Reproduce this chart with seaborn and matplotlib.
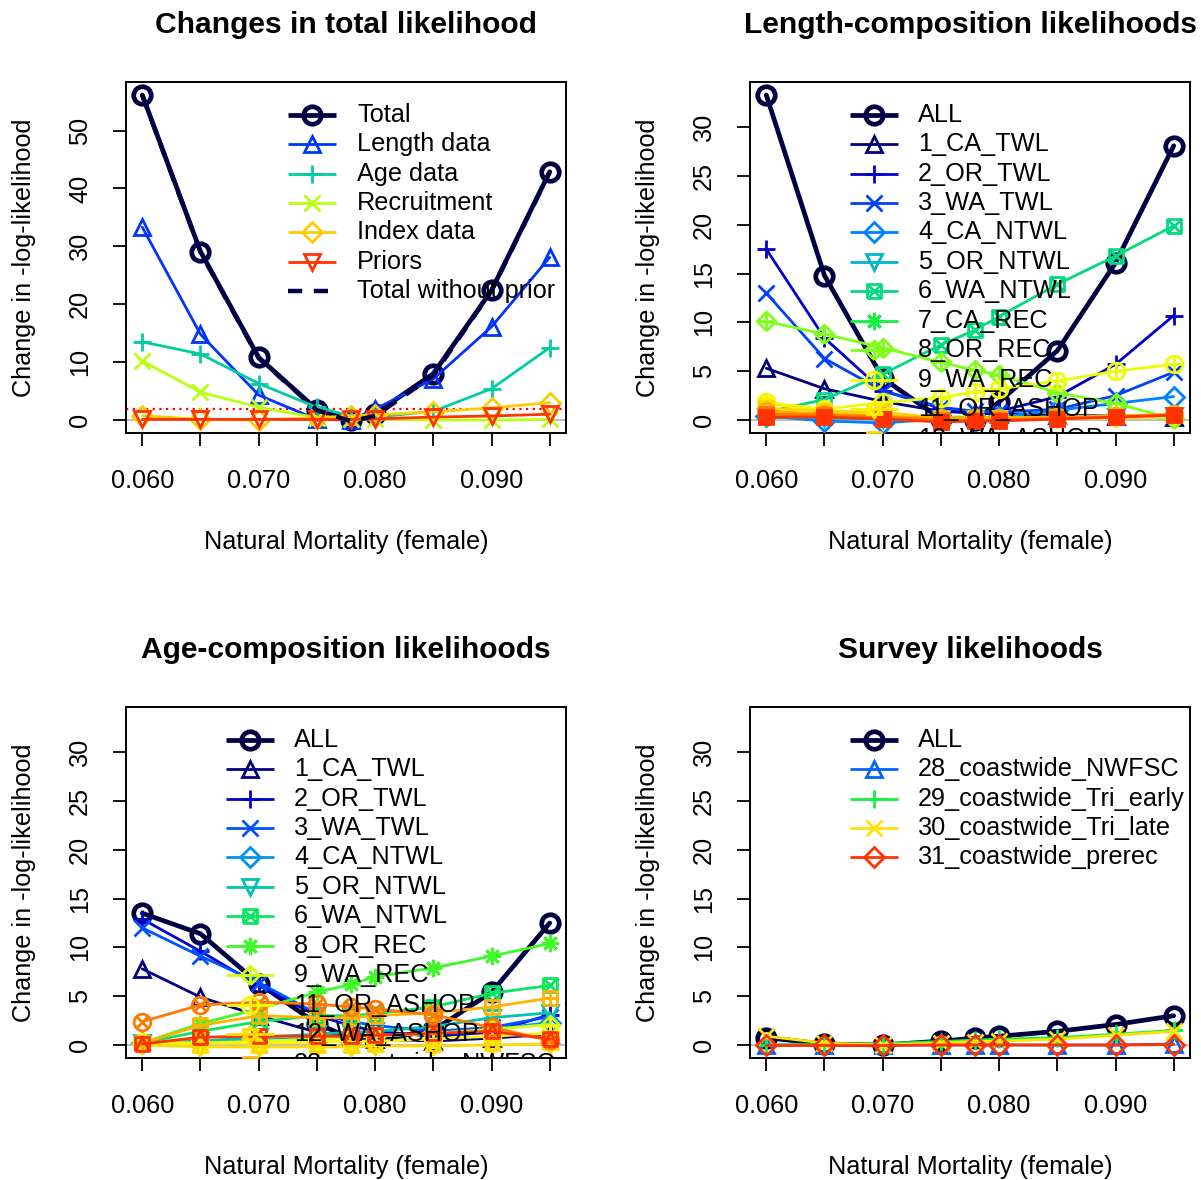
import numpy as np
import matplotlib
matplotlib.use("Agg")
import matplotlib.pyplot as plt
from matplotlib.path import Path
import seaborn as sns

# ---------------------------------------------------------------- data
mortality = [0.060, 0.065, 0.070, 0.075, 0.0779, 0.080, 0.085, 0.090, 0.095]

# total likelihood components
total = [56.15, 29.1, 10.8, 1.8, 0.0, 1.1, 8.0, 22.4, 42.9]
total_no_prior = [56.1, 29.0, 10.7, 1.7, -0.2, 0.7, 7.7, 22.3, 42.8]
length_data = [33.3, 14.8, 4.3, 0.1, 0.0, 1.85, 7.1, 16.1, 28.1]
age_data = [13.5, 11.4, 6.3, 2.2, 0.7, 0.5, 1.5, 5.4, 12.5]
recruitment = [10.2, 4.8, 2.2, 0.4, 0.1, 0.2, 0.0, 0.0, 0.1]
index_data = [0.75, 0.1, 0.0, 0.4, 0.7, 0.9, 1.4, 2.1, 3.0]
priors = [0.1, 0.1, 0.1, 0.1, 0.1, 0.2, 0.5, 0.7, 1.0]

total_labels = ["Total", "Length data", "Age data", "Recruitment",
                "Index data", "Priors", "Total without prior"]

# length-composition likelihood by fleet
len_fleets = ["1_CA_TWL", "2_OR_TWL", "3_WA_TWL", "4_CA_NTWL", "5_OR_NTWL",
              "6_WA_NTWL", "7_CA_REC", "8_OR_REC", "9_WA_REC", "11_OR_ASHOP",
              "12_WA_ASHOP", "28_coastwide_NWFSC", "29_coastwide_Tri_early",
              "30_coastwide_Tri_late"]
len_1_ca_twl = [5.3, 3.2, 1.9, 0.9, 0.7, 0.6, 0.5, 0.4, 0.3]
len_2_or_twl = [17.5, 8.4, 3.0, 1.2, 0.8, 0.9, 2.4, 5.7, 10.7]
len_3_wa_twl = [13.0, 6.3, 3.0, 1.3, 0.9, 0.8, 1.1, 2.5, 4.9]
len_4_ca_ntwl = [0.4, -0.1, -0.3, 0.1, 0.2, 0.3, 1.0, 1.7, 2.4]
len_5_or_ntwl = [0.3, 0.2, 0.1, 0.1, 0.1, 0.1, 0.2, 0.3, 0.4]
len_6_wa_ntwl = [0.8, 2.1, 4.7, 7.7, 9.2, 10.6, 13.9, 16.8, 19.9]
len_7_ca_rec = [0.3, 0.4, 0.4, 0.3, 0.3, 0.3, 0.3, 0.4, 0.4]
len_8_or_rec = [10.1, 8.8, 7.4, 5.9, 5.1, 4.6, 2.8, 1.7, 0.1]
len_9_wa_rec = [1.8, 1.1, 1.8, 2.3, 2.9, 3.2, 4.0, 5.0, 5.7]
len_11_or_ashop = [1.7, 0.9, 0.5, 0.1, 0.1, 0.1, 0.1, 0.2, 0.3]
len_12_wa_ashop = [1.2, 0.9, 0.8, 0.2, 0.2, 0.2, 0.3, 0.4, 0.5]
len_28_nwfsc = [0.9, 0.6, 0.4, 0.2, 0.2, 0.2, 0.3, 0.4, 0.6]
len_29_tri_early = [0.6, 0.5, 0.3, 0.0, 0.0, 0.0, 0.2, 0.3, 0.5]
len_30_tri_late = [0.3, 0.3, 0.1, -0.2, -0.1, -0.1, 0.1, 0.3, 0.5]

# age-composition likelihood by fleet
age_fleets = ["1_CA_TWL", "2_OR_TWL", "3_WA_TWL", "4_CA_NTWL", "5_OR_NTWL",
              "6_WA_NTWL", "8_OR_REC", "9_WA_REC", "11_OR_ASHOP",
              "12_WA_ASHOP", "28_coastwide_NWFSC", "29_coastwide_Tri_early",
              "30_coastwide_Tri_late"]
age_1_ca_twl = [7.8, 4.9, 3.0, 1.3, 0.8, 0.6, 0.4, 0.7, 1.1]
age_2_or_twl = [12.9, 9.6, 6.1, 3.0, 2.0, 1.4, 0.9, 1.3, 3.1]
age_3_wa_twl = [12.0, 9.1, 6.4, 3.2, 2.4, 2.0, 1.4, 1.8, 2.9]
age_4_ca_ntwl = [0.2, 0.3, 0.5, 0.7, 0.8, 0.9, 1.2, 1.6, 2.3]
age_5_or_ntwl = [0.2, 0.4, 0.8, 1.1, 1.3, 1.4, 1.9, 2.8, 3.3]
age_6_wa_ntwl = [0.2, 1.4, 2.4, 3.0, 3.0, 3.2, 3.9, 5.3, 6.1]
age_8_or_rec = [0.2, 2.2, 3.7, 5.4, 6.2, 7.0, 7.9, 9.1, 10.4]
age_9_wa_rec = [0.1, 0.2, 0.4, 0.6, 0.8, 0.9, 1.2, 1.6, 2.1]
age_11_or_ashop = [0.3, 0.2, 0.2, 0.3, 0.4, 0.4, 0.6, 0.9, 1.2]
age_12_wa_ashop = [0.0, -0.2, -0.2, -0.2, -0.2, -0.1, -0.1, 0.0, 0.1]
age_28_nwfsc = [0.2, 2.0, 3.0, 2.8, 2.8, 3.0, 3.3, 3.9, 4.8]
age_29_tri_early = [2.4, 4.1, 4.4, 4.2, 3.9, 3.7, 3.1, 1.8, 0.5]
age_30_tri_late = [0.1, 0.8, 0.9, 0.9, 0.9, 1.0, 1.2, 1.4, 0.6]

# survey index likelihood by fleet
surv_fleets = ["28_coastwide_NWFSC", "29_coastwide_Tri_early",
               "30_coastwide_Tri_late", "31_coastwide_prerec"]
surv_28_nwfsc = [0.0, 0.0, 0.0, 0.0, 0.0, 0.0, 0.0, 0.0, 0.1]
surv_29_tri_early = [0.0, 0.05, 0.15, 0.35, 0.5, 0.6, 0.75, 1.1, 1.5]
surv_30_tri_late = [0.9, 0.2, 0.0, 0.2, 0.35, 0.4, 0.6, 1.0, 1.4]
surv_31_prerec = [-0.05, -0.05, -0.05, 0.0, 0.0, 0.0, 0.0, 0.0, 0.05]

x_major = [0.060, 0.070, 0.080, 0.090]
x_major_labels = ["0.060", "0.070", "0.080", "0.090"]
x_minor = [0.065, 0.075, 0.085, 0.095]
chi_cutoff = 1.92


# ---------------------------------------------------------------- style
sns.set_style("white")
plt.rcParams["font.family"] = ["Liberation Sans", "DejaVu Sans"]
for key in ("text.color", "axes.labelcolor", "xtick.color", "ytick.color",
            "axes.edgecolor"):
    plt.rcParams[key] = "black"
FS = 18.2


def rich_colors_short(n):
    x = np.linspace(0, 1, n)
    r = 1.0 / (1.0 + np.exp(20 - 35 * x))
    g = np.clip(-0.8 + 6 * x - 5 * x ** 2, 0, 1)
    b = np.exp(-0.5 * ((x - 0.25) / 0.15) ** 2)
    b = b / b.max()
    return [tuple(np.clip(v, 0, 1)) for v in np.column_stack([r, g, b])]


def _poly(*segs):
    verts, codes = [], []
    for seg in segs:
        verts.extend(seg)
        codes.extend([Path.MOVETO] + [Path.LINETO] * (len(seg) - 1))
    return Path(verts, codes)


SQ = [(-1, -1), (1, -1), (1, 1), (-1, 1), (-1, -1)]
DM = [(0, -1), (1, 0), (0, 1), (-1, 0), (0, -1)]
PLUS = ([(-1, 0), (1, 0)], [(0, -1), (0, 1)])
CROSS_SQ = ([(-1, -1), (1, 1)], [(-1, 1), (1, -1)])
d = 0.7071
CROSS_C = ([(-d, -d), (d, d)], [(-d, d), (d, -d)])
circ = Path.unit_circle()

# plotting symbols 1..15 as (marker, size, filled)
PCH = {
    1: ("o", 12, False),
    2: ("^", 12, False),
    3: ("+", 13.5, False),
    4: ("x", 11, False),
    5: ("D", 10, False),
    6: ("v", 12, False),
    7: (_poly(SQ, *CROSS_SQ), 10, False),
    8: ((8, 2, 0), 12.5, False),
    9: (_poly(DM, *PLUS), 13.5, False),
    10: (Path.make_compound_path(circ, _poly(*PLUS)), 12, False),
    11: (_poly([(-0.87, -0.55), (0.87, -0.55), (0, 0.95), (-0.87, -0.55)],
               [(-0.87, 0.55), (0.87, 0.55), (0, -0.95), (-0.87, 0.55)]), 12.5, False),
    12: (_poly(SQ, *PLUS), 10, False),
    13: (Path.make_compound_path(circ, _poly(*CROSS_C)), 12, False),
    14: (_poly(SQ, [(-1, -1), (0, 1), (1, -1)]), 10, False),
    15: ("s", 9.5, True),
}


def draw_series(ax, y, color, pch, lw, mew, ms_scale=1.0, z=3):
    mk, ms, filled = PCH[pch]
    sns.lineplot(x=mortality, y=y, ax=ax, color=color, linewidth=lw,
                 marker=mk, markersize=ms * ms_scale,
                 markeredgewidth=mew, markeredgecolor=color,
                 markerfacecolor=color if filled else "none",
                 errorbar=None, sort=False, zorder=z, clip_on=True)


def draw_key(ax, labels, colors, pchs, lws, mews, x0, x1, xt, dashed=None,
             y0=0.907, dy=0.0839, ms_scale=None):
    """Legend rows running down from the top; rows past the frame are cut."""
    for i, lab in enumerate(labels):
        yy = y0 - i * dy
        if yy < -0.05:
            break
        c = colors[i]
        if dashed is not None and i == dashed:
            ax.plot([x0, x1], [yy, yy], transform=ax.transAxes, color=c,
                    lw=lws[i], ls=(0, (3.2, 2.6)), clip_on=True, zorder=6,
                    dash_capstyle="butt")
        else:
            mk, ms, filled = PCH[pchs[i]]
            s = ms_scale[i] if ms_scale else 1.0
            ax.plot([x0, x1], [yy, yy], transform=ax.transAxes, color=c,
                    lw=lws[i], clip_on=True, zorder=6, solid_capstyle="butt")
            ax.plot([(x0 + x1) / 2], [yy], transform=ax.transAxes,
                    color=c, marker=mk, ms=ms * s, mew=mews[i], mec=c,
                    mfc=c if filled else "none", ls="none",
                    clip_on=True, zorder=6)
        ax.text(xt, yy, lab, transform=ax.transAxes, fontsize=FS,
                va="center", ha="left", clip_on=True, zorder=7)


def frame(ax, ymax, yticks, title):
    ax.set_ylim(-0.04 * ymax, 1.04 * ymax)
    ax.set_xlim(0.0586, 0.0964)
    ax.set_xticks(x_major)
    ax.set_xticklabels(x_major_labels)
    ax.set_xticks(x_minor, minor=True)
    ax.set_yticks(yticks)
    ax.set_yticklabels([str(v) for v in yticks])
    ax.tick_params(axis="x", which="both", length=9.4, width=1.3, pad=16.5,
                   labelsize=FS, direction="out", bottom=True)
    ax.tick_params(axis="y", length=9.4, width=1.3, pad=15,
                   labelsize=FS, direction="out", left=True, labelrotation=90)
    for lab in ax.get_yticklabels():
        lab.set_va("center")
    for sp in ax.spines.values():
        sp.set_color("black")
        sp.set_linewidth(1.4)
    ax.set_xlabel("Natural Mortality (female)", fontsize=FS)
    ax.set_ylabel("Change in -log-likelihood", fontsize=FS)
    ax.xaxis.set_label_coords(0.5, -0.275)
    ax.yaxis.set_label_coords(-0.204, 0.5)
    ax.set_title(title, fontsize=21.6, fontweight="bold", pad=35.4)
    ax.axhline(0, color="#BEBEBE", lw=1.4, zorder=1)


# ---------------------------------------------------------------- figure
fig = plt.figure(figsize=(12.01, 11.80), dpi=100)
W, H = 1201.0, 1180.0
boxes = [(126, 82), (750, 82), (126, 707), (750, 707)]
axes = [fig.add_axes([l / W, 1 - (t + 351) / H, 440 / W, 351 / H])
        for l, t in boxes]

# ---- panel 1: total likelihood components
ax = axes[0]
frame(ax, 56.15, [0, 10, 20, 30, 40, 50], "Changes in total likelihood")
ax.axhline(chi_cutoff, color="red", lw=1.6, ls=(0, (1, 2)), zorder=2)
cols1 = rich_colors_short(6)
series1 = [total, length_data, age_data, recruitment, index_data, priors]
for i, y in enumerate(series1):
    lw = 3.4 if i == 0 else 2.0
    draw_series(ax, y, cols1[i], i + 1, lw, lw, 1.05 if i == 0 else 1.0,
                z=3 + i * 0.01)
sns.lineplot(x=mortality, y=total_no_prior, ax=ax, color=cols1[0],
             linewidth=3.2, linestyle=(0, (3.2, 2.6)), errorbar=None,
             sort=False, zorder=4)
draw_key(ax, total_labels, cols1 + [cols1[0]], [1, 2, 3, 4, 5, 6, 1],
         [3.4, 2.0, 2.0, 2.0, 2.0, 2.0, 3.2], [3.4, 2, 2, 2, 2, 2, 2],
         0.368, 0.477, 0.525, dashed=6, ms_scale=[1.05] + [1] * 6)


def component_panel(ax, title, all_vals, labels, series):
    n = len(series) + 1
    cols = rich_colors_short(n)
    frame(ax, 33.3, [0, 5, 10, 15, 20, 25, 30], title)
    draw_series(ax, all_vals, cols[0], 1, 3.4, 3.4, 1.05, z=3)
    for i, y in enumerate(series):
        draw_series(ax, y, cols[i + 1], i + 2, 2.0, 2.0, z=3 + 0.01 * (i + 1))
    draw_key(ax, ["ALL"] + labels, cols, list(range(1, n + 1)),
             [3.4] + [2.0] * (n - 1), [3.4] + [2.0] * (n - 1),
             0.227, 0.336, 0.382, ms_scale=[1.05] + [1] * (n - 1))


component_panel(axes[1], "Length-composition likelihoods", length_data, len_fleets,
                [len_1_ca_twl, len_2_or_twl, len_3_wa_twl, len_4_ca_ntwl,
                 len_5_or_ntwl, len_6_wa_ntwl, len_7_ca_rec, len_8_or_rec,
                 len_9_wa_rec, len_11_or_ashop, len_12_wa_ashop, len_28_nwfsc,
                 len_29_tri_early, len_30_tri_late])
component_panel(axes[2], "Age-composition likelihoods", age_data, age_fleets,
                [age_1_ca_twl, age_2_or_twl, age_3_wa_twl, age_4_ca_ntwl,
                 age_5_or_ntwl, age_6_wa_ntwl, age_8_or_rec, age_9_wa_rec,
                 age_11_or_ashop, age_12_wa_ashop, age_28_nwfsc,
                 age_29_tri_early, age_30_tri_late])
component_panel(axes[3], "Survey likelihoods", index_data, surv_fleets,
                [surv_28_nwfsc, surv_29_tri_early, surv_30_tri_late, surv_31_prerec])

fig.savefig("out.png", dpi=100, facecolor="white")
